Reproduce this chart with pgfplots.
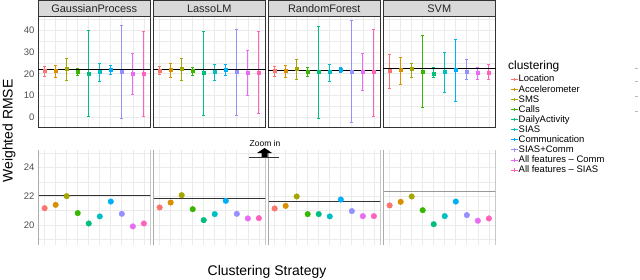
\documentclass[border=0pt]{standalone}
\usepackage{pgfplots}
\usepackage{pgfplotstable}
\pgfplotsset{compat=1.18}
\usepackage{fontspec}
\setmainfont{Liberation Sans}
\definecolor{c0}{HTML}{F8766D}
\definecolor{c1}{HTML}{D89000}
\definecolor{c2}{HTML}{A3A500}
\definecolor{c3}{HTML}{39B600}
\definecolor{c4}{HTML}{00BF7D}
\definecolor{c5}{HTML}{00BFC4}
\definecolor{c6}{HTML}{00B0F6}
\definecolor{c7}{HTML}{9590FF}
\definecolor{c8}{HTML}{E76BF3}
\definecolor{c9}{HTML}{FF62BC}
\definecolor{gridc}{HTML}{EBEBEB}
\definecolor{framec}{HTML}{333333}
\definecolor{stripc}{HTML}{D9D9D9}
\definecolor{ticktext}{HTML}{4D4D4D}

\pgfplotstableread{
x y lo hi
1 21.17 18.8 23.3
2 21.40 18.5 23.9
3 22.00 16.8 27.1
4 20.83 19.1 22.6
5 20.11 0.3 40.0
6 20.60 16.4 24.5
7 21.63 19.5 23.9
8 20.78 -0.5 42.0
9 19.91 10.5 29.4
10 20.11 0.6 39.5
}\gp
\pgfplotstableread{
x y lo hi
1 21.22 19.5 23.3
2 21.56 18.3 24.5
3 22.07 16.8 27.1
4 21.10 19.4 22.7
5 20.34 0.9 39.5
6 20.76 17.0 24.4
7 21.68 19.4 24.1
8 20.78 1.1 40.3
9 20.46 10.0 30.8
10 20.48 1.8 39.2
}\lasso
\pgfplotstableread{
x y lo hi
1 21.15 18.8 23.3
2 21.33 18.5 23.8
3 21.98 17.3 26.4
4 20.76 18.6 22.9
5 20.76 -0.2 41.5
6 20.60 16.5 24.4
7 21.77 20.5 22.7
8 20.97 -2.4 44.2
9 20.62 12.3 29.4
10 20.62 0.6 40.3
}\rf
\pgfplotstableread{
x y lo hi
1 21.36 13.5 28.6
2 21.61 15.3 27.6
3 21.98 18.5 24.8
4 21.03 4.7 37.3
5 20.06 18.3 22.9
6 20.62 11.4 29.8
7 21.63 7.4 35.8
8 20.69 17.3 26.4
9 20.30 17.6 22.9
10 20.46 17.3 24.1
}\svm

\pgfplotsset{
  /pgf/number format/assume math mode=true,
  panel/.style={scale only axis, width=112.5bp, anchor=north west,
    xmin=0.4, xmax=10.6, xtick={1,...,10}, xticklabels={},
    grid=both, major grid style={gridc, line width=0.7pt},
    minor grid style={gridc, line width=0.35pt},
    major tick length=0pt, minor tick length=0pt,
    yticklabel style={font=\fontsize{9.5}{10}\selectfont, text=ticktext}},
  toppanel/.style={panel, height=111bp, ymin=-4.3, ymax=46.4,
    ytick={0,10,20,30,40}, minor ytick={5,15,25,35,45},
    axis line style={framec, line width=0.6pt}},
  botpanel/.style={panel, height=95bp, ymin=18.62, ymax=25.2,
    ytick={20,22,24}, minor ytick={19,21,23,25},
    axis line style={draw=none}},
  ebstyle/.style={color=#1, mark=square*, mark size=1.4pt, line width=1.2pt,
    error bars/.cd, y dir=both, y explicit,
    error bar style={line width=1.2pt},
    error mark options={rotate=90, line width=1pt, mark size=1.6pt}},
}

\newcommand\ebars[1]{%
  \pgfplotsinvokeforeach{0,...,9}{%
    \addplot[restrict expr to domain={\coordindex}{##1:##1}, ebstyle=c##1] table[x=x, y=y,
      y error plus expr=\thisrow{hi}-\thisrow{y},
      y error minus expr=\thisrow{y}-\thisrow{lo}] {#1};}}
\newcommand\bpoints[1]{%
  \pgfplotsinvokeforeach{0,...,9}{%
    \addplot[restrict expr to domain={\coordindex}{##1:##1}, only marks, mark=*, mark size=2.8pt, color=c##1]
      table[x=x, y=y] {#1};}}
\newcommand\edges{%
  \draw[gray!65, line width=1.3pt] (rel axis cs:0,0) -- (rel axis cs:0,1);
  \draw[gray!65, line width=1.3pt] (rel axis cs:1,0) -- (rel axis cs:1,1);}

\begin{document}
\begin{tikzpicture}
\path[use as bounding box] (0,0) rectangle (640bp,-280bp);

% ---------- top panels ----------
\begin{axis}[toppanel, at={(38bp,-16bp)}]
  \ebars{\gp}
  \addplot[black, line width=1.1pt] coordinates {(0.4,22.07) (10.6,22.07)};
\end{axis}
\begin{axis}[toppanel, at={(153bp,-16bp)}, yticklabels={}]
  \ebars{\lasso}
  \addplot[black, line width=1.1pt] coordinates {(0.4,21.85) (10.6,21.85)};
\end{axis}
\begin{axis}[toppanel, at={(268bp,-16bp)}, yticklabels={}]
  \ebars{\rf}
  \addplot[black, line width=1.1pt] coordinates {(0.4,21.61) (10.6,21.61)};
\end{axis}
\begin{axis}[toppanel, at={(383bp,-16bp)}, yticklabels={},
  legend entries={Location, Accelerometer, SMS, Calls, DailyActivity, SIAS,
    Communication, SIAS+Comm, All features -- Comm, All features -- SIAS},
  legend cell align=left,
  legend image code/.code={%
    \draw[#1, line width=0.9pt] (0bp,0bp) -- (7bp,0bp);
    \draw[#1, line width=0.7pt] (3.5bp,-1.6bp) -- (3.5bp,1.6bp);},
  legend style={at={(axis description cs:1.129,0.475)}, anchor=north west,
    draw=none, fill=none, inner sep=0pt, row sep=0pt,
    font=\fontsize{9.5}{10}\selectfont,
    nodes={inner sep=0.6pt, text height=6.9pt, text depth=2.0pt}}]
  \ebars{\svm}
  \addplot[black, line width=1.1pt, forget plot] coordinates {(0.4,22.32) (10.6,22.32)};
\end{axis}

% strips
\foreach \xl/\name in {38/GaussianProcess, 153/LassoLM, 268/RandomForest, 383/SVM}{
  \draw[fill=stripc, draw=framec, line width=0.6pt] (\xl bp,-0.5bp) rectangle ({\xl bp+112.5bp},-16bp);
  \node[font=\fontsize{11}{12}\selectfont, text=black!85, anchor=center]
    at ({\xl bp+56.25bp},-8.3bp) {\name};
}

% ---------- bottom panels ----------
\begin{axis}[botpanel, at={(38bp,-150bp)}]
  \addplot[framec, line width=1pt] coordinates {(0.4,22.07) (10.6,22.07)};
  \bpoints{\gp}
  \edges
\end{axis}
\begin{axis}[botpanel, at={(153bp,-150bp)}, yticklabels={}]
  \addplot[framec, line width=1pt] coordinates {(0.4,21.85) (10.6,21.85)};
  \bpoints{\lasso}
  \edges
\end{axis}
\begin{axis}[botpanel, at={(268bp,-150bp)}, yticklabels={}]
  \addplot[framec, line width=1pt] coordinates {(0.4,21.61) (10.6,21.61)};
  \bpoints{\rf}
  \edges
\end{axis}
\begin{axis}[botpanel, at={(383bp,-150bp)}, yticklabels={}]
  \addplot[gray!80, line width=1.6pt] coordinates {(0.4,22.32) (10.6,22.32)};
  \bpoints{\svm}
  \edges
\end{axis}

% legend title
\node[anchor=west, font=\fontsize{12}{13}\selectfont, inner sep=0pt] at (508bp,-66.7bp) {clustering};

% axis titles
\node[rotate=90, font=\fontsize{14}{15}\selectfont, inner sep=0pt] at (9bp,-131bp) {Weighted RMSE};
\node[font=\fontsize{14}{15}\selectfont, inner sep=0pt] at (267bp,-271.5bp) {Clustering Strategy};

% zoom in annotation
\node[font=\fontsize{8.5}{9}\selectfont, inner sep=0pt] at (265bp,-143bp) {Zoom in};
\fill[black] (264.5bp,-148bp) -- (272bp,-153bp) -- (267.5bp,-153bp) -- (267.5bp,-157.5bp)
  -- (261.5bp,-157.5bp) -- (261.5bp,-153bp) -- (257bp,-153bp) -- cycle;
\draw[black!80, line width=1.2pt] (249bp,-157.7bp) -- (279bp,-157.7bp);

% stray marks at right edge
\foreach \yy in {68.3,81.7,96.7,111.7}{
  \draw[gray!55, line width=0.6pt] (634.5bp,-\yy bp) -- (637.5bp,-\yy bp);
}
\end{tikzpicture}
\end{document}
